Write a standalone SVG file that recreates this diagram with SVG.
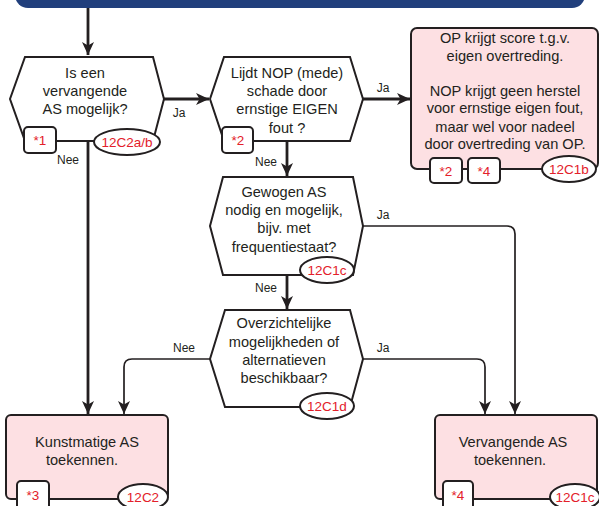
<svg xmlns="http://www.w3.org/2000/svg" width="599" height="506" viewBox="0 0 599 506">
<style>
.t{font-family:"Liberation Sans",Arial,sans-serif;font-size:14.6px;fill:#231f20;text-anchor:middle}
.l{font-family:"Liberation Sans",Arial,sans-serif;font-size:12px;fill:#231f20;text-anchor:middle}
.r{font-family:"Liberation Sans",Arial,sans-serif;font-size:13.5px;fill:#e3202a;text-anchor:middle}
.hex{fill:#fff;stroke:#231f20;stroke-width:2;stroke-linejoin:miter}
.box{fill:#fde0e3;stroke:#231f20;stroke-width:2}
.badge{fill:#fff;stroke:#231f20;stroke-width:2}
.thick{fill:none;stroke:#231f20;stroke-width:2.8}
.thin{fill:none;stroke:#231f20;stroke-width:1.7}
</style>
<defs>
<marker id="ah" markerUnits="userSpaceOnUse" markerWidth="14" markerHeight="14" viewBox="0 0 14 14" refX="13" refY="7" orient="auto">
<path d="M0,1 L13,7 L0,13 L3.5,7 z" fill="#231f20"/>
</marker>
</defs>
<rect x="15" y="-30" width="570" height="38" rx="13" fill="#213f7c"/>
<g id="connectors">
<path class="thick" d="M88,8 V55" marker-end="url(#ah)"/>
<path class="thick" d="M164,99 H209" marker-end="url(#ah)"/>
<path class="thick" d="M88,141 V414" marker-end="url(#ah)"/>
<path class="thick" d="M363,99 H410" marker-end="url(#ah)"/>
<path class="thick" d="M287,141 V176" marker-end="url(#ah)"/>
<path class="thick" d="M287,275 V309" marker-end="url(#ah)"/>
<path class="thin" d="M363,226 H507 Q515,226 515,234 V414" marker-end="url(#ah)"/>
<path class="thin" d="M363,359 H477 Q485,359 485,367 V414" marker-end="url(#ah)"/>
<path class="thin" d="M210,359 H132 Q124,359 124,367 V414" marker-end="url(#ah)"/>
<text class="l" x="179" y="117">Ja</text>
<text class="l" x="68" y="164">Nee</text>
<text class="l" x="383" y="92">Ja</text>
<text class="l" x="266" y="166">Nee</text>
<text class="l" x="383" y="219">Ja</text>
<text class="l" x="266" y="292">Nee</text>
<text class="l" x="383" y="352">Ja</text>
<text class="l" x="184" y="352">Nee</text>
</g>
<g id="q1">
<polygon class="hex" points="25,57 153,57 164,99 153,141 25,141 10,99"/>
<text class="t" x="85" y="78">Is een</text>
<text class="t" x="85" y="96">vervangende</text>
<text class="t" x="85" y="114">AS mogelijk?</text>
<rect class="badge" x="24" y="127" width="32" height="26" rx="4"/>
<text class="r" x="40" y="145">*1</text>
<ellipse class="badge" cx="127" cy="142" rx="33" ry="13"/>
<text class="r" x="127" y="147">12C2a/b</text>
</g>
<g id="q2">
<polygon class="hex" points="224,57 350,57 363,99 350,141 224,141 210,99"/>
<text class="t" x="287" y="78">Lijdt NOP (mede)</text>
<text class="t" x="287" y="96">schade door</text>
<text class="t" x="287" y="114">ernstige EIGEN</text>
<text class="t" x="287" y="133">fout ?</text>
<rect class="badge" x="222" y="127" width="31" height="26" rx="4"/>
<text class="r" x="238" y="145">*2</text>
</g>
<g id="r1">
<rect class="box" x="411" y="28" width="187" height="141" rx="6"/>
<text class="t" x="505" y="43">OP krijgt score t.g.v.</text>
<text class="t" x="505" y="61">eigen overtreding.</text>
<text class="t" x="505" y="96">NOP krijgt geen herstel</text>
<text class="t" x="505" y="113">voor ernstige eigen fout,</text>
<text class="t" x="505" y="132">maar wel voor nadeel</text>
<text class="t" x="505" y="149">door overtreding van OP.</text>
<rect class="badge" x="430" y="158" width="32" height="25" rx="4"/>
<text class="r" x="446" y="176">*2</text>
<rect class="badge" x="468" y="158" width="32" height="25" rx="4"/>
<text class="r" x="484" y="176">*4</text>
<ellipse class="badge" cx="569" cy="169" rx="27" ry="13"/>
<text class="r" x="569" y="174">12C1b</text>
</g>
<g id="q3">
<polygon class="hex" points="223,177 353,177 363,226 353,275 223,275 210,226"/>
<text class="t" x="284" y="197">Gewogen AS</text>
<text class="t" x="284" y="215">nodig en mogelijk,</text>
<text class="t" x="284" y="233">bijv. met</text>
<text class="t" x="284" y="252">frequentiestaat?</text>
<ellipse class="badge" cx="327" cy="270" rx="27" ry="13"/>
<text class="r" x="327" y="275">12C1c</text>
</g>
<g id="q4">
<polygon class="hex" points="225,310 350,310 363,359 350,407 225,407 210,359"/>
<text class="t" x="284" y="328">Overzichtelijke</text>
<text class="t" x="284" y="347">mogelijkheden of</text>
<text class="t" x="284" y="365">alternatieven</text>
<text class="t" x="284" y="383">beschikbaar?</text>
<ellipse class="badge" cx="327" cy="406" rx="27" ry="13"/>
<text class="r" x="327" y="411">12C1d</text>
</g>
<g id="r2">
<rect class="box" x="6" y="415" width="162" height="84" rx="5"/>
<text class="t" x="87" y="447">Kunstmatige AS</text>
<text class="t" x="82" y="465">toekennen.</text>
<rect class="badge" x="17" y="481" width="32" height="30" rx="4"/>
<text class="r" x="33" y="500">*3</text>
<ellipse class="badge" cx="143" cy="497" rx="25" ry="13"/>
<text class="r" x="143" y="502">12C2</text>
</g>
<g id="r3">
<rect class="box" x="435" y="415" width="162" height="84" rx="5"/>
<text class="t" x="513" y="447">Vervangende AS</text>
<text class="t" x="510" y="465">toekennen.</text>
<rect class="badge" x="443" y="481" width="30" height="30" rx="4"/>
<text class="r" x="458" y="500">*4</text>
<ellipse class="badge" cx="575" cy="497" rx="25" ry="13"/>
<text class="r" x="575" y="502">12C1c</text>
</g>
</svg>
